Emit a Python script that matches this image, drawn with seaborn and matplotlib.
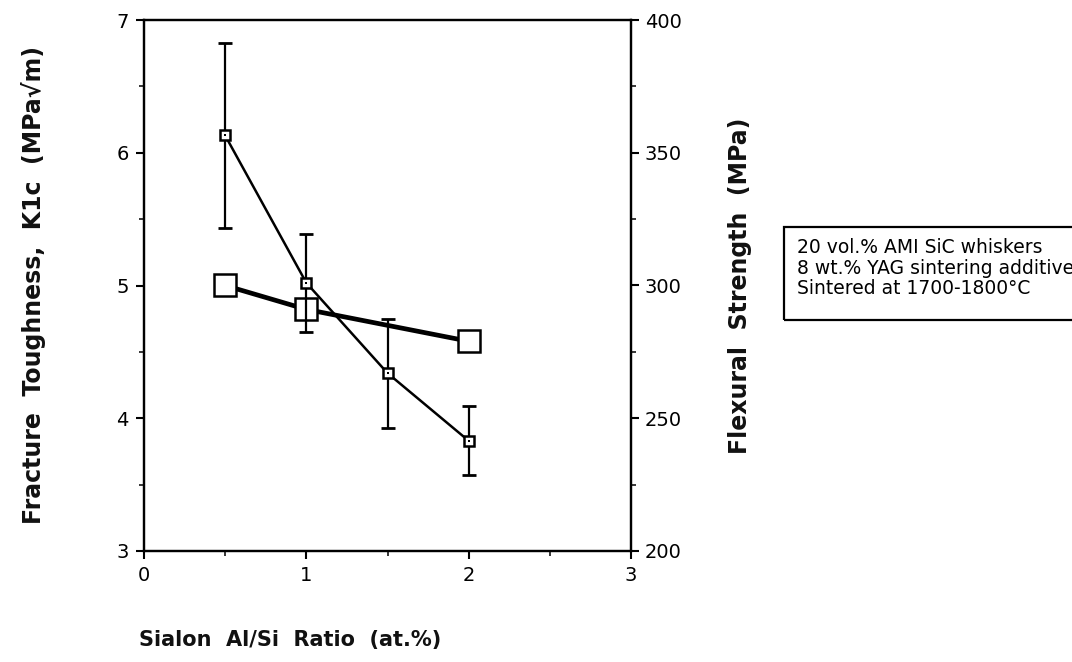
import matplotlib
matplotlib.use("Agg")
import matplotlib.pyplot as plt
import seaborn as sns
import pandas as pd
from matplotlib.ticker import MultipleLocator
from matplotlib.patches import Rectangle

# Fracture toughness (left axis) with scatter bars
ratio = [0.5, 1.0, 1.5, 2.0]
toughness = [6.13, 5.02, 4.34, 3.83]
toughness_err = [0.70, 0.37, 0.41, 0.26]

# Flexural strength (right axis)
strength_ratio = [0.5, 1.0, 2.0]
strength = [300, 291, 279]

x_ticks = [0, 1, 2, 3]
left_ticks = [3, 4, 5, 6, 7]
right_ticks = [200, 250, 300, 350, 400]

note_lines = ["20 vol.% AMI SiC whiskers",
              "8 wt.% YAG sintering additive",
              "Sintered at 1700-1800\u00b0C"]

sns.set_theme(style="ticks")
plt.rcParams['font.family'] = ['DejaVu Sans']
plt.rcParams['axes.linewidth'] = 1.6

W, H = 1072, 662
fig = plt.figure(figsize=(W / 100, H / 100), dpi=100)
ax = fig.add_axes([144 / W, 1 - 551 / H, (631 - 144) / W, (551 - 20) / H])
ax2 = ax.twinx()

tough_df = pd.DataFrame({"ratio": ratio, "k1c": toughness})
str_df = pd.DataFrame({"ratio": strength_ratio, "strength": strength})

# strength: thick line, large open squares
sns.lineplot(data=str_df, x="ratio", y="strength", ax=ax2, color="black",
             linewidth=3.4, marker="s", markersize=16, markerfacecolor="white",
             markeredgecolor="black", markeredgewidth=1.8, zorder=3)

# toughness: thin line, small squares with error bars
ax.errorbar(ratio, toughness, yerr=toughness_err, fmt="none", ecolor="black",
            elinewidth=1.6, capsize=4.8, capthick=2.0, zorder=4)
sns.lineplot(data=tough_df, x="ratio", y="k1c", ax=ax, color="black",
             linewidth=1.8, marker="s", markersize=7, markerfacecolor="white",
             markeredgecolor="black", markeredgewidth=1.8, zorder=5)
sns.scatterplot(data=tough_df, x="ratio", y="k1c", ax=ax, color="black",
                marker="s", s=3, linewidth=0, zorder=6)

# put the toughness axes above the twin so its marks draw on top
ax.set_zorder(ax2.get_zorder() + 1)
ax.patch.set_visible(False)

ax.set_xlim(0, 3)
ax.set_ylim(3, 7)
ax2.set_ylim(200, 400)
ax.set_xticks(x_ticks)
ax.set_yticks(left_ticks)
ax2.set_yticks(right_ticks)
ax.xaxis.set_minor_locator(MultipleLocator(0.5))
ax.yaxis.set_minor_locator(MultipleLocator(0.5))
ax2.yaxis.set_minor_locator(MultipleLocator(25))

for a in (ax, ax2):
    for s in a.spines.values():
        s.set_visible(True)
        s.set_linewidth(1.6)
        s.set_color("black")
ax.tick_params(axis="both", which="major", direction="out", length=6, width=1.5,
               labelsize=14, colors="black", pad=5)
ax.tick_params(axis="both", which="minor", direction="out", length=3.5, width=1.3)
ax.tick_params(top=False, right=False, which="both")
ax2.tick_params(axis="y", which="major", direction="out", length=6, width=1.5,
                labelsize=14, colors="black", pad=4)
ax2.tick_params(axis="y", which="minor", direction="out", length=3.5, width=1.3)

label_style = dict(fontweight="bold", color="#111111")
ax.set_xlabel("Sialon  Al/Si  Ratio  (at.%)", fontsize=15, **label_style)
ax.set_ylabel("Fracture  Toughness,  K1c  (MPa\u221am)", fontsize=17, **label_style)
ax2.set_ylabel("Flexural  Strength  (MPa)", fontsize=17, **label_style)

axw, axh = 631 - 144, 551 - 20
ax.xaxis.set_label_coords((290 - 144) / axw, (551 - 640) / axh)
ax.xaxis.label.set_va("center")
ax.yaxis.set_label_coords((34 - 144) / axw, 0.5)
ax.yaxis.label.set_va("center")
ax2.yaxis.set_label_coords((740 - 144) / axw, 0.5)
ax2.yaxis.label.set_va("center")

# annotation box, its right edge runs off the page
fig.patches.append(Rectangle((784 / W, 1 - 320 / H), (W + 20 - 784) / W, (320 - 227) / H,
                             transform=fig.transFigure, fill=False,
                             edgecolor="black", linewidth=1.6))
fig.text(797 / W, 1 - 238 / H, "\n".join(note_lines), fontsize=13.5,
         ha="left", va="top", linespacing=1.1, color="black")

fig.savefig("out.png", dpi=100)
